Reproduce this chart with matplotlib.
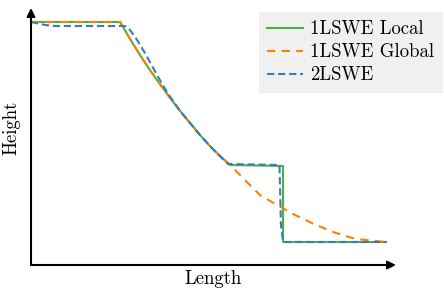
import numpy as np
import matplotlib
matplotlib.use("Agg")
import matplotlib.pyplot as plt

plt.rcParams['font.family'] = ['cmr10', 'DejaVu Serif']
plt.rcParams['axes.formatter.use_mathtext'] = True

# length / height (arbitrary units)
x_local = [0.00, 2.51, 2.79, 3.07, 3.35, 3.63, 3.92, 4.20, 4.48, 4.76, 5.04, 5.32, 5.55, 5.61, 7.10, 7.10, 10.00]
h_local = [2.43, 2.43, 2.26, 2.10, 1.95, 1.81, 1.67, 1.54, 1.42, 1.30, 1.19, 1.09, 1.02, 1.00, 0.99, 0.23, 0.23]

x_global = [0.00, 2.51, 2.79, 3.07, 3.35, 3.63, 3.92, 4.20, 4.48, 4.76, 5.04, 5.32, 5.61, 5.97, 6.45, 6.93, 7.44, 8.03, 8.59, 9.15, 10.00]
h_global = [2.43, 2.43, 2.26, 2.10, 1.95, 1.81, 1.67, 1.54, 1.42, 1.30, 1.19, 1.09, 1.00, 0.87, 0.70, 0.60, 0.50, 0.40, 0.32, 0.26, 0.23]

x_2lswe = [0.00, 0.40, 0.68, 2.65, 2.79, 2.99, 3.21, 3.41, 3.63, 3.83, 4.20, 4.48, 4.76, 5.04, 5.32, 5.55, 7.00, 7.04, 7.10, 10.00]
h_2lswe = [2.43, 2.40, 2.39, 2.39, 2.35, 2.25, 2.12, 1.99, 1.85, 1.73, 1.54, 1.42, 1.30, 1.19, 1.09, 1.01, 1.00, 0.40, 0.23, 0.23]

fig = plt.figure(figsize=(4.44, 2.96), dpi=100)
ax = fig.add_axes([31/444, 31/296, 365/444, 257/296])

ax.plot(x_local, h_local, color='#4daf4a', lw=1.5, label='1LSWE Local')
ax.plot(x_global, h_global, color='#ff7f00', lw=1.5, dashes=(4, 3), label='1LSWE Global')
ax.plot(x_2lswe, h_2lswe, color='#377eb8', lw=1.5, dashes=(3.5, 1.8), label='2LSWE')

ax.set_xlim(0, 365/35.5)
ax.set_ylim(0, 2.57)
for s in ax.spines.values():
    s.set_visible(False)
ax.set_xticks([])
ax.set_yticks([])

# axis arrows
ax.annotate('', xy=(1, 0), xytext=(0, 0), xycoords='axes fraction',
            arrowprops=dict(arrowstyle='-|>', color='black', lw=1.5, mutation_scale=12, shrinkA=0, shrinkB=0))
ax.annotate('', xy=(0, 1), xytext=(0, 0), xycoords='axes fraction',
            arrowprops=dict(arrowstyle='-|>', color='black', lw=1.5, mutation_scale=12, shrinkA=0, shrinkB=0))

ax.set_xlabel('Length', fontsize=13.5)
ax.set_ylabel('Height', fontsize=13.5)
ax.xaxis.set_label_coords(0.5, -0.02, transform=ax.transAxes)
ax.yaxis.set_label_coords(-0.03, 0.535)

leg = ax.legend(loc='upper right', bbox_to_anchor=(443/444, 1 - 12/296), bbox_transform=fig.transFigure,
                fontsize=13.5, frameon=True, fancybox=False, handlelength=1.9, handletextpad=0.4,
                labelspacing=0.27, borderpad=0.45, borderaxespad=0)
leg.get_frame().set_facecolor('#f0f0f0')
leg.get_frame().set_edgecolor('none')
leg.get_frame().set_alpha(1)

fig.savefig('out.png', dpi=100)
